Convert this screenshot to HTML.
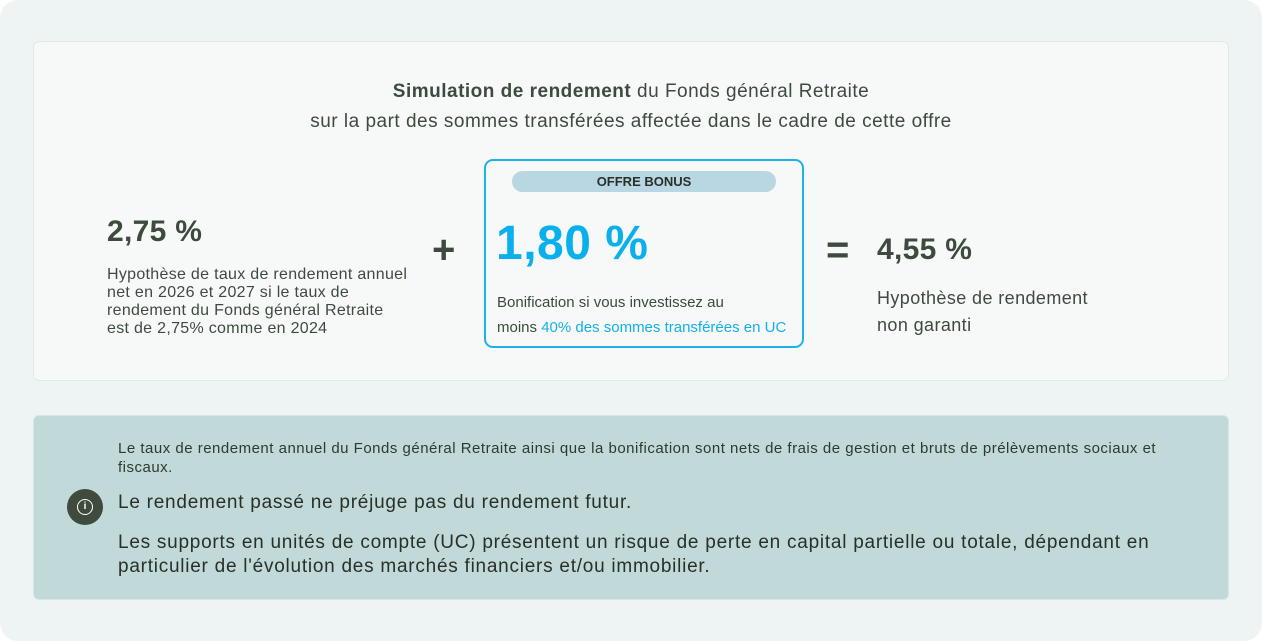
<!DOCTYPE html>
<html><head><meta charset="utf-8"><style>
*{margin:0;padding:0;box-sizing:border-box}
body{width:1262px;height:641px;background:#fff;font-family:"Liberation Sans",sans-serif;position:relative;overflow:hidden}
.bg{position:absolute;left:0;top:0;width:1262px;height:641px;background:#eef4f4;border-radius:18px}
.a{position:absolute;white-space:nowrap}
.g{color:#3e4a3e}
</style></head><body>
<div class="bg"></div>
<div class="a" style="left:33px;top:41px;width:1196px;height:340px;background:#f7f9f9;border:1px solid #e3e9e9;border-radius:6px"></div>
<div class="a g" style="left:0;width:1262px;top:77px;text-align:center;font-size:19px;letter-spacing:0.5px;line-height:30px">
<b>Simulation de rendement</b> du Fonds général Retraite<br>sur la part des sommes transférées affectée dans le cadre de cette offre</div>
<div class="a g" style="left:107px;top:215px;font-size:30px;letter-spacing:0.3px;font-weight:bold">2,75 %</div>
<div class="a g" style="left:107px;top:266px;font-size:16px;letter-spacing:0.3px;line-height:18px">Hypothèse de taux de rendement annuel<br>net en 2026 et 2027 si le taux de<br>rendement du Fonds général Retraite<br>est de 2,75% comme en 2024</div>
<div class="a g" style="left:432px;top:228px;font-size:40px;font-weight:bold">+</div>
<div class="a" style="left:484px;top:159px;width:320px;height:189px;border:2px solid #1eb2ea;border-radius:9px;background:#f7f9f9"></div>
<div class="a" style="left:512px;top:171px;width:264px;height:21px;background:#b9d7e2;border-radius:11px;text-align:center;font-size:13px;font-weight:bold;color:#283028;line-height:21px">OFFRE BONUS</div>
<div class="a" style="left:496px;top:216px;font-size:48px;letter-spacing:0.5px;font-weight:bold;color:#0ab0ec">1,80 %</div>
<div class="a" style="left:497px;top:290px;font-size:15px;line-height:25px;color:#3a4a3a">Bonification si vous investissez au<br>moins <span style="color:#14afe9">40% des sommes transférées en UC</span></div>
<div class="a g" style="left:826px;top:228px;font-size:40px;font-weight:bold">=</div>
<div class="a g" style="left:877px;top:233px;font-size:30px;letter-spacing:0.3px;font-weight:bold">4,55 %</div>
<div class="a g" style="left:877px;top:285px;font-size:18px;letter-spacing:0.4px;line-height:27px">Hypothèse de rendement<br>non garanti</div>
<div class="a" style="left:33px;top:415px;width:1196px;height:185px;background:#c1d9d8;border:1px solid #d6e5e5;border-radius:6px"></div>
<div class="a" style="left:118px;top:439px;font-size:15px;letter-spacing:0.5px;line-height:19px;color:#2e3a30">Le taux de rendement annuel du Fonds général Retraite ainsi que la bonification sont nets de frais de gestion et bruts de prélèvements sociaux et<br>fiscaux.</div>
<div class="a" style="left:67px;top:489px;width:36px;height:36px;border-radius:50%;background:#3f4b3c"></div>
<div class="a" style="left:77px;top:499px;width:16px;height:16px;border-radius:50%;border:1.5px solid #fff;color:#fff;font-size:10px;text-align:center;line-height:13px;font-weight:bold">i</div>
<div class="a" style="left:118px;top:492px;font-size:19px;letter-spacing:0.75px;color:#283028">Le rendement passé ne préjuge pas du rendement futur.</div>
<div class="a" style="left:118px;top:531px;font-size:19px;letter-spacing:0.75px;line-height:24px;color:#283028">Les supports en unités de compte (UC) présentent un risque de perte en capital partielle ou totale, dépendant en<br>particulier de l'évolution des marchés financiers et/ou immobilier.</div>
</body></html>
